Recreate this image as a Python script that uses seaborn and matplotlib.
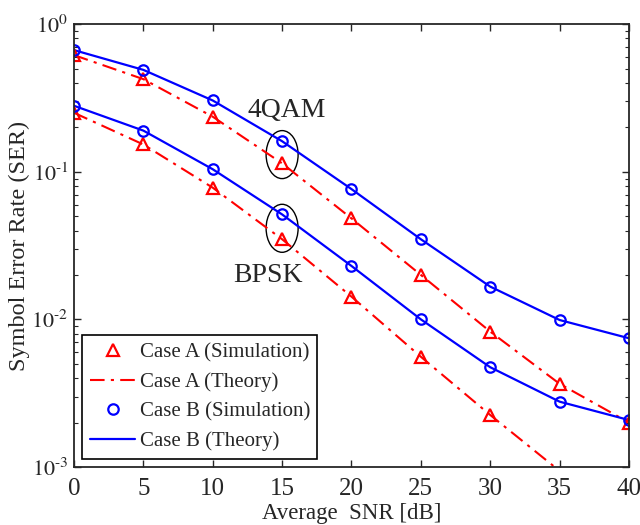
import numpy as np
import pandas as pd
import matplotlib
matplotlib.use("Agg")
import matplotlib.pyplot as plt
import seaborn as sns
from matplotlib.patches import Ellipse
from matplotlib.ticker import FuncFormatter
from matplotlib.transforms import ScaledTranslation

# SNR points in dB
snr = [0, 5, 10, 15, 20, 25, 30, 35, 40]

# 4QAM curves
qam_case_a = [0.617, 0.424, 0.236, 0.114, 0.0483, 0.0200, 0.00826, 0.00366, 0.00200]
qam_case_b = [0.667, 0.490, 0.304, 0.161, 0.0763, 0.0349, 0.01667, 0.00990, 0.00745]

# BPSK curves
bpsk_case_a = [0.251, 0.153, 0.078, 0.0349, 0.01425, 0.00558, 0.00225, 0.00094, 0.00040]
bpsk_case_b = [0.280, 0.190, 0.104, 0.0514, 0.0230, 0.0100, 0.00474, 0.00277, 0.00208]

# simulated points of case A / BPSK below 1e-3 are off the chart
bpsk_case_a_sim = [0.251, 0.153, 0.078, 0.0349, 0.01425, 0.00558, 0.00225, np.nan, np.nan]

RED = "#ff0000"
BLUE = "#0000ff"

sns.set_style("ticks")
plt.rcParams["font.family"] = ["Liberation Serif", "DejaVu Serif"]
plt.rcParams["mathtext.fontset"] = "stix"

fig = plt.figure(figsize=(6.4, 5.25), dpi=100)
ax = fig.add_axes([0.1156, 0.1105, 0.8672, 0.8435])

df = pd.DataFrame({"snr": snr, "qa": qam_case_a, "qb": qam_case_b,
                   "ba": bpsk_case_a, "bb": bpsk_case_b, "ba_sim": bpsk_case_a_sim})

dash = (7, 3, 1.5, 3)

# theory lines
sns.lineplot(data=df, x="snr", y="qa", ax=ax, color=RED, lw=1.5,
             label="_nolegend_").lines[-1].set_dashes(dash)
sns.lineplot(data=df, x="snr", y="ba", ax=ax, color=RED, lw=1.5,
             label="Case A (Theory)").lines[-1].set_dashes(dash)
sns.lineplot(data=df, x="snr", y="qb", ax=ax, color=BLUE, lw=1.6, label="_nolegend_")
sns.lineplot(data=df, x="snr", y="bb", ax=ax, color=BLUE, lw=1.6, label="Case B (Theory)")

# simulation markers
tri = dict(marker="^", linestyle="none", markersize=9, markerfacecolor="none",
           markeredgecolor=RED, markeredgewidth=1.6, color=RED)
circ = dict(marker="o", linestyle="none", markersize=7.5, markerfacecolor="none",
            markeredgecolor=BLUE, markeredgewidth=1.6, color=BLUE)
sns.lineplot(data=df, x="snr", y="qa", ax=ax, label="_nolegend_", **tri)
sns.lineplot(data=df.dropna(), x="snr", y="ba_sim", ax=ax, label="Case A (Simulation)", **tri)
sns.lineplot(data=df, x="snr", y="qb", ax=ax, label="_nolegend_", **circ)
sns.lineplot(data=df, x="snr", y="bb", ax=ax, label="Case B (Simulation)", **circ)

ax.set_yscale("log")
ax.set_xlim(0, 40)
ax.set_ylim(1e-3, 1)
ax.set_xticks(range(0, 41, 5))
ax.yaxis.set_major_formatter(FuncFormatter(
    lambda v, p: r"$10^{\text{%d}}$" % round(np.log10(v)) if v > 0 else ""))
ax.tick_params(which="both", direction="in", top=True, right=True)
ax.tick_params(axis="x", labelsize=18, pad=8)
ax.tick_params(axis="y", labelsize=16, pad=4)
ax.tick_params(which="major", length=5, width=1)
ax.tick_params(which="minor", length=3, width=0.8)
for s in ax.spines.values():
    s.set_linewidth(1.3)

ax.set_xlabel("Average  SNR [dB]", fontsize=16.5, labelpad=2)
ax.set_ylabel("Symbol Error Rate (SER)", fontsize=17.5)
ax.yaxis.set_label_coords(-0.08, 0.5)

# group ellipses around the 15 dB points
for yc in [0.1307, 0.0414]:
    off = ScaledTranslation(15, yc, ax.transData)
    ax.add_patch(Ellipse((0, 0), 0.32, 0.48, transform=fig.dpi_scale_trans + off,
                         fill=False, ec="black", lw=1.0))
ax.text(15.3, 0.262, "4QAM", fontsize=20, ha="center", va="center")
ax.text(14.0, 0.0197, "BPSK", fontsize=20, ha="center", va="center")

h, l = ax.get_legend_handles_labels()
order = ["Case A (Simulation)", "Case A (Theory)", "Case B (Simulation)", "Case B (Theory)"]
hd = dict(zip(l, h))
leg = ax.legend([hd[k] for k in order], order, loc="lower left", fontsize=15,
                frameon=True, fancybox=False, edgecolor="black", framealpha=1,
                handlelength=2.2, handletextpad=0.2, borderpad=0.35, labelspacing=0.48,
                borderaxespad=0.4)
leg.get_frame().set_linewidth(1.2)

fig.savefig("out.png", dpi=100)
